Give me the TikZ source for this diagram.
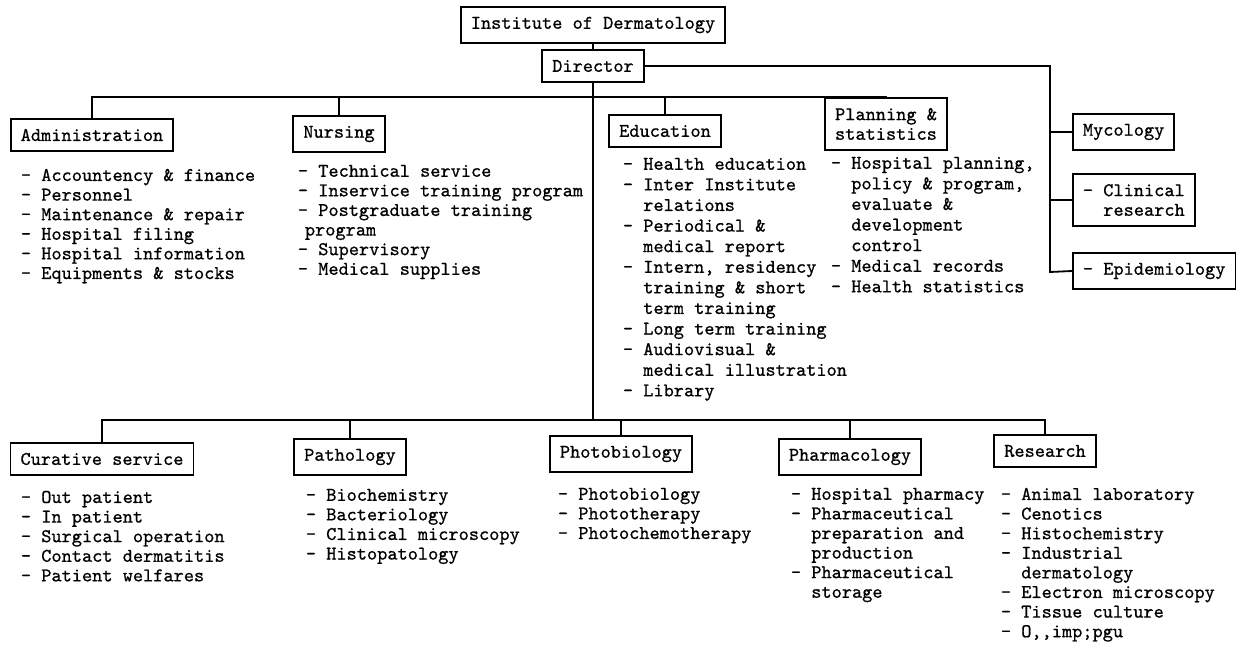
\documentclass[tikz,border=0pt]{standalone}
\usepackage{fontspec}
\setmainfont{lmmono10-regular.otf}[FakeBold=0.7]
\newcommand{\indt}{\hphantom{-~}}
\begin{document}
\begin{tikzpicture}[x=0.5pt,y=-0.5pt,
  every node/.style={font=\fontsize{9.7}{9.8}\selectfont},
  box/.style={draw,line width=0.9pt,inner xsep=5pt,inner ysep=5pt,align=left},
  list/.style={anchor=north west,inner sep=0pt,align=left},
  every path/.style={line width=0.9pt}]
\useasboundingbox (0,0) rectangle (1238,648);
% top of the chart
\node[box] (inst) at (593,25) {Institute of Dermatology};
\node[box] (dir) at (593,66) {Director};
\coordinate (ubus) at (593,97);
\coordinate (bbus) at (593,420);
\coordinate (rbus) at (1050,272);
% first row of units
\node[box] (admin) at (92,135) {Administration};
\node[box] (nurs) at (339,134) {Nursing};
\node[box] (educ) at (665,131) {Education};
\node[box] (plan) at (886,124) {Planning \&\\statistics};
\node[box,anchor=west] (myco) at (1072,132) {Mycology};
\node[box,anchor=west] (clin) at (1072,200) {- Clinical\\\indt research};
\node[box,anchor=west] (epid) at (1072,271) {- Epidemiology};
% second row of units
\node[box] (cura) at (102,459) {Curative service};
\node[box] (path) at (350,457) {Pathology};
\node[box] (phbi) at (621,454) {Photobiology};
\node[box] (phar) at (850,457) {Pharmacology};
\node[box] (rsch) at (1045,451) {Research};
% lists
\node[list] (admlist) at (20,168) {- Accountency \& finance\\- Personnel\\- Maintenance \& repair\\- Hospital filing\\- Hospital information\\- Equipments \& stocks};
\node[list] (nurlist) at (297,164) {- Technical service\\- Inservice training program\\- Postgraduate training\\\hspace{3.5pt}program\\- Supervisory\\- Medical supplies};
\node[list,font=\fontsize{9.7}{10.3}\selectfont] (edulist) at (622,157) {- Health education\\- Inter Institute\\\indt relations\\- Periodical \&\\\indt medical report\\- Intern, residency\\\indt training \& short\\\indt term training\\- Long term training\\- Audiovisual \&\\\indt medical illustration\\- Library};
\node[list,font=\fontsize{9.7}{10.3}\selectfont] (plalist) at (830,156) {- Hospital planning,\\\indt policy \& program,\\\indt evaluate \&\\\indt development\\\indt control\\- Medical records\\- Health statistics};
\node[list] (curlist) at (20,490) {- Out patient\\- In patient\\- Surgical operation\\- Contact dermatitis\\- Patient welfares};
\node[list] (patlist) at (305,488) {- Biochemistry\\- Bacteriology\\- Clinical microscopy\\- Histopatology};
\node[list] (phblist) at (557,487) {- Photobiology\\- Phototherapy\\- Photochemotherapy};
\node[list] (phalist) at (790,487) {- Hospital pharmacy\\- Pharmaceutical\\\indt preparation and\\\indt production\\- Pharmaceutical\\\indt storage};
\node[list] (reslist) at (1000,487) {- Animal laboratory\\- Cenotics\\- Histochemistry\\- Industrial\\\indt dermatology\\- Electron microscopy\\- Tissue culture\\- O,{},imp;pgu};
% lines
\draw (inst) -- (dir);
\draw (dir) -- (bbus);
\draw (admin.north) |- (ubus) -| (plan.north);
\draw (nurs.north) -- (nurs.north |- ubus);
\draw (educ.north) -- (educ.north |- ubus);
\draw (dir.east) -| (rbus) -- (epid.west);
\draw (myco.west) -- (myco.west -| rbus);
\draw (clin.west) -- (clin.west -| rbus);
\draw (cura.north) |- (bbus) -| (rsch.north);
\draw (path.north) -- (path.north |- bbus);
\draw (phbi.north) -- (phbi.north |- bbus);
\draw (phar.north) -- (phar.north |- bbus);
\end{tikzpicture}
\end{document}
